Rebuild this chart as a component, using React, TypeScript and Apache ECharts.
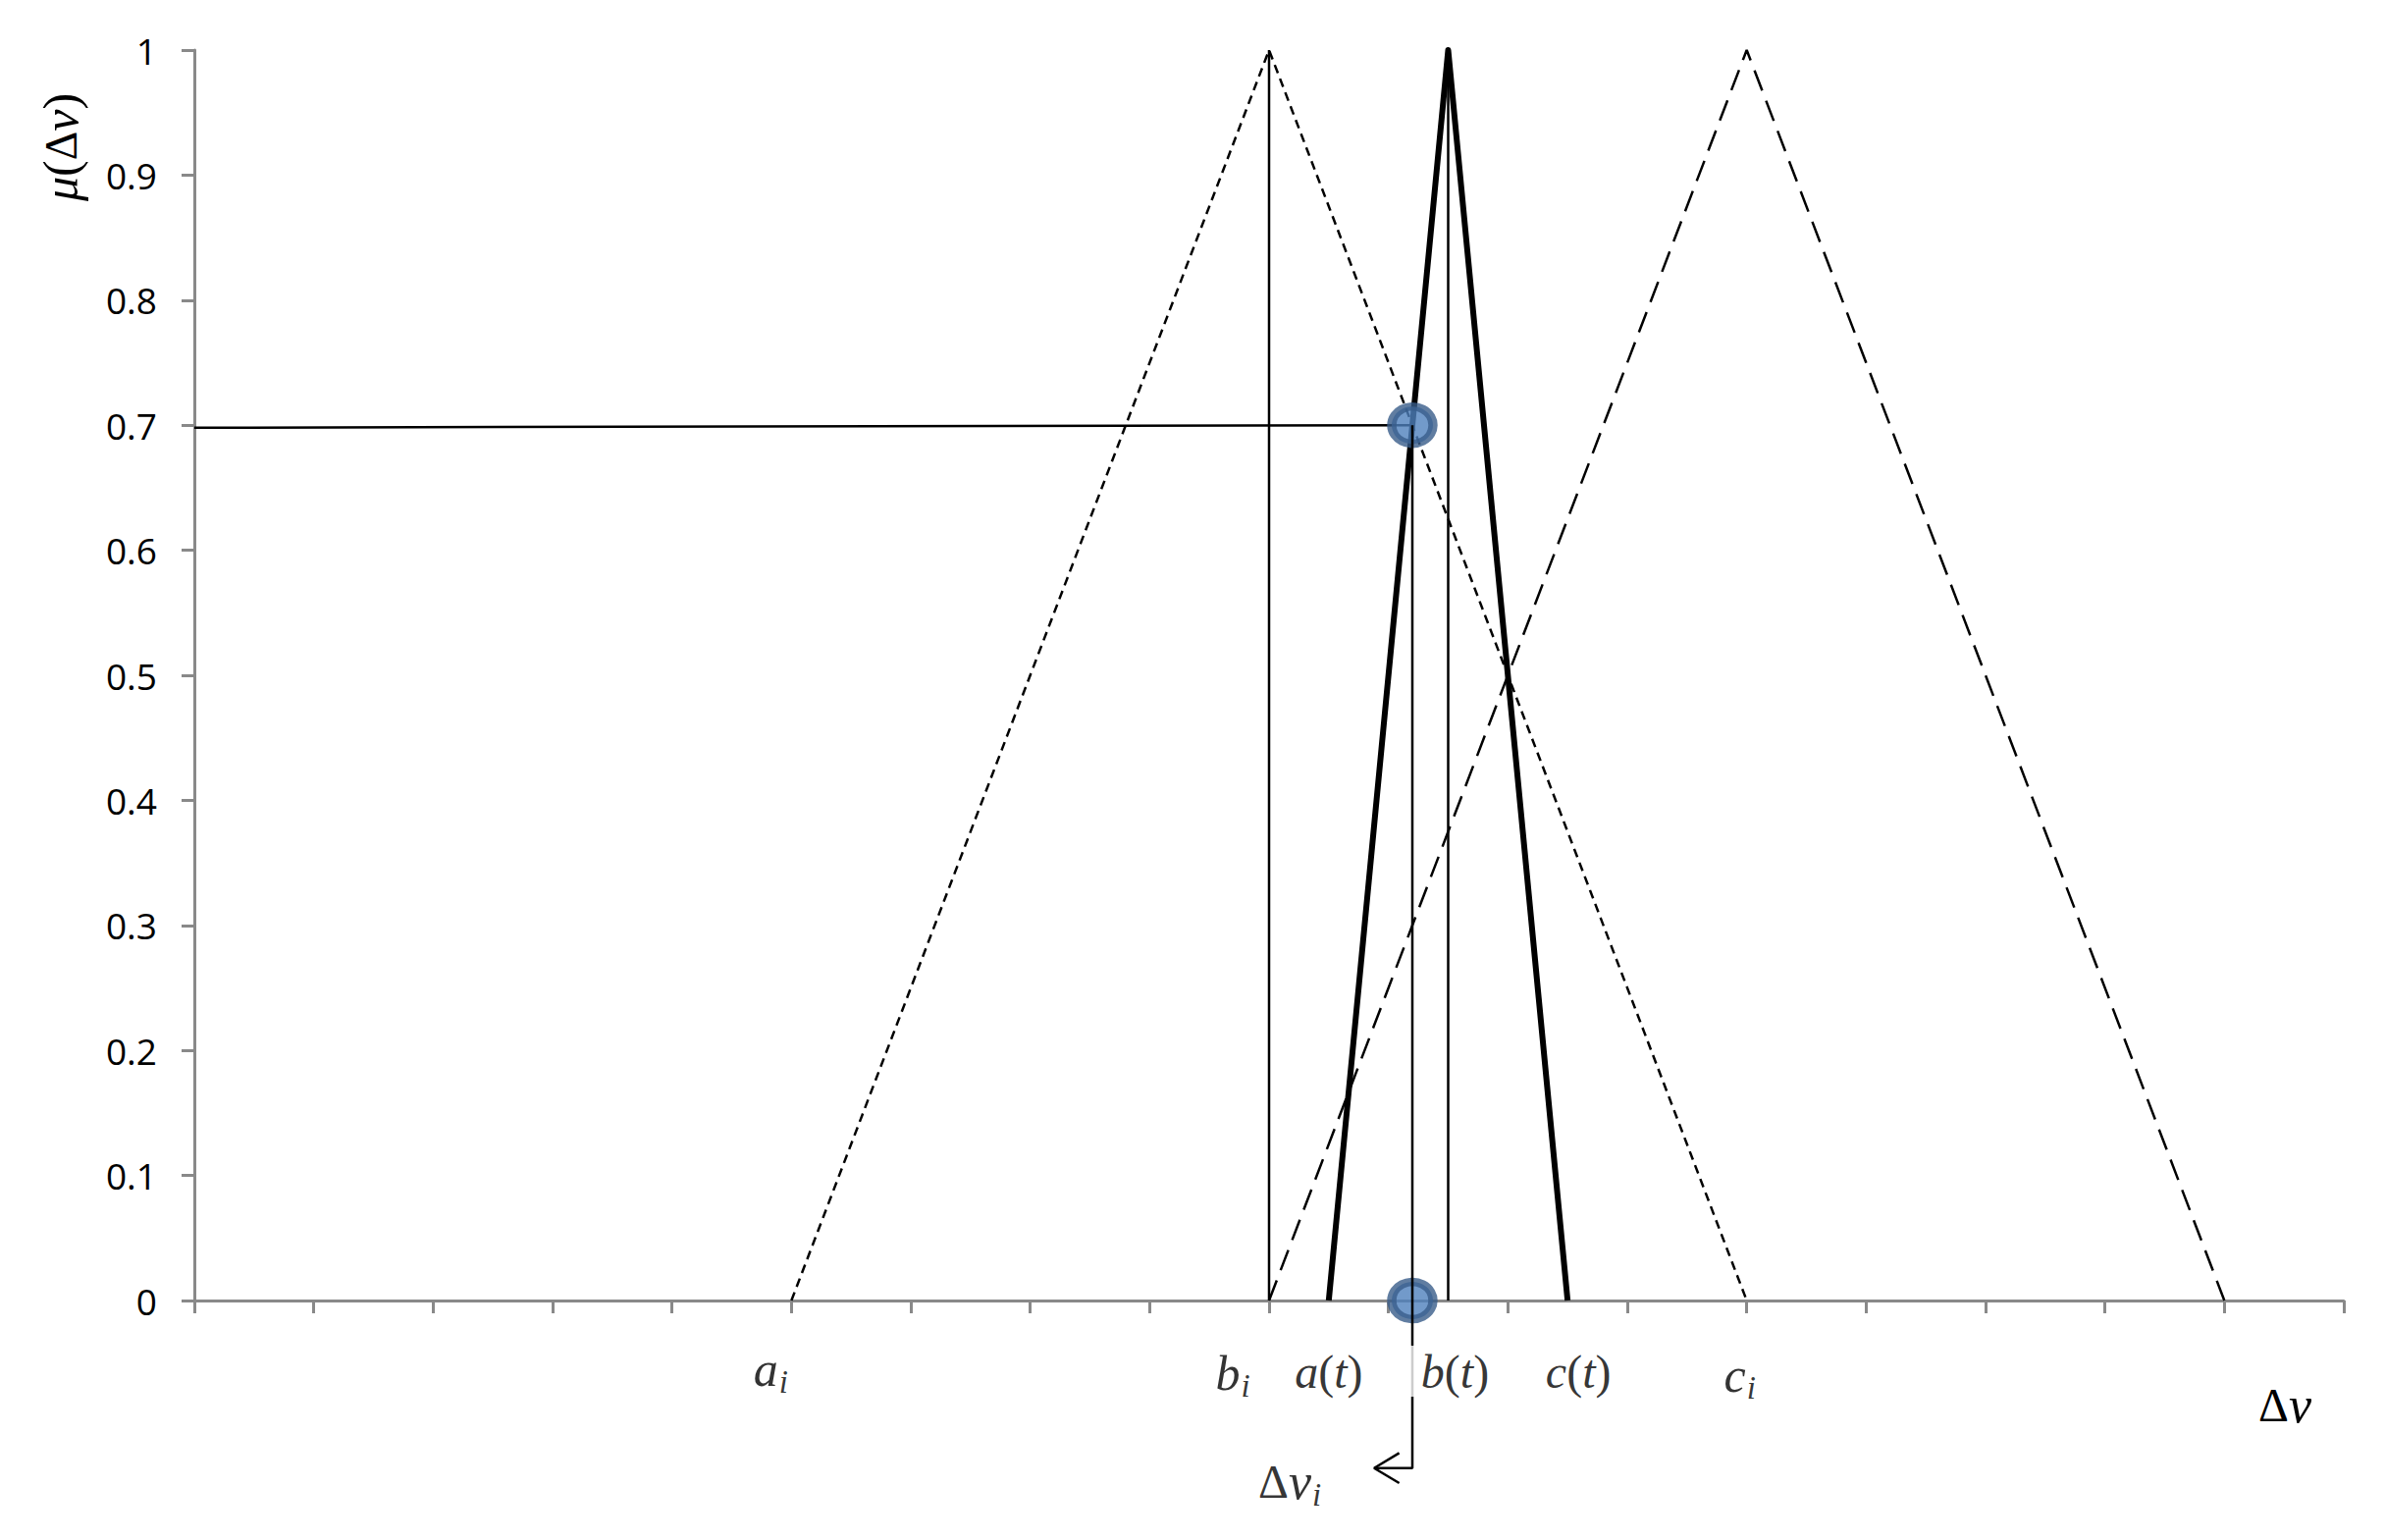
import { useEffect, useRef } from "react";
import * as echarts from "echarts";

// axis ranges
const X_MIN = 0;
const X_MAX = 18;
const X_STEP = 1;
const Y_MIN = 0;
const Y_MAX = 1;
const Y_STEP = 0.1;

// triangular fuzzy numbers [x, mu]
const fuzzyI = [[5, 0], [9, 1], [13, 0]];
const fuzzyNext = [[9, 0], [13, 1], [17, 0]];
const fuzzyT = [[9.5, 0], [10.5, 1], [11.5, 0]];
const peakBi = [[9, 0], [9, 1]];
const peakBt = [[10.5, 0], [10.5, 1]];
const muLevel = [[0, 0.698], [10.2, 0.7]];
const dvDrop = [[10.2, 0.7], [10.2, -0.134], [9.88, -0.134]];
const arrowHead = [[10.09, -0.122], [9.88, -0.134], [10.09, -0.146]];
const intersections = [[10.2, 0.7], [10.2, 0]];

// parameter labels along the x axis
const paramNames = ["a_i", "b_i", "a(t)", "b(t)", "c(t)", "c_i"];
const paramValues = [5, 9, 9.5, 10.5, 11.5, 13];
const dvLabelAnchor = [[9.88, -0.134]];

// label pixel offsets (layout, not data)
const paramOffsets = [[-21, 70], [-37, 74], [0, 72], [2, 72], [11, 72], [-7, 76]];

const SERIF = "'Liberation Serif', 'DejaVu Serif', serif";

const rich = {
  sm: { fontFamily: SERIF, fontStyle: "italic", fontSize: 50, color: "#000" },
  ss: { fontFamily: SERIF, fontStyle: "italic", fontSize: 33, color: "#000", padding: [26, 0, 0, 1] },
  tm: { fontFamily: SERIF, fontStyle: "italic", fontSize: 48, color: "#000" },
  tp: { fontFamily: SERIF, fontSize: 48, color: "#000" },
  d: { fontFamily: SERIF, fontSize: 48, color: "#000" },
  dv: { fontFamily: SERIF, fontStyle: "italic", fontSize: 52, color: "#000" },
};

function fmtParam(name: string): string {
  if (name.includes("_")) {
    const [b, s] = name.split("_");
    return `{sm|${b}}{ss|${s}}`;
  }
  const b = name.charAt(0);
  return `{tm|${b}}{tp|(}{tm|t}{tp|)}`;
}

export default function App() {
  const ref = useRef<HTMLDivElement>(null);
  useEffect(() => {
    if (!ref.current) return;
    const chart = echarts.init(ref.current, undefined, { renderer: "svg" });
    const thin = { color: "#000", width: 2.5 };
    const lineBase = {
      type: "line",
      showSymbol: false,
      symbol: "none",
      clip: false,
      silent: true,
      z: 2,
    };
    chart.setOption({
      animation: false,
      tooltip: { show: false },
      grid: { left: 198, right: 42, top: 51, bottom: 244, containLabel: false },
      xAxis: {
        type: "value",
        min: X_MIN,
        max: X_MAX,
        interval: X_STEP,
        axisLine: { show: true, onZero: false, lineStyle: { color: "#898989", width: 3 } },
        axisTick: { show: true, inside: false, length: 13, lineStyle: { color: "#898989", width: 3 } },
        axisLabel: { show: false },
        splitLine: { show: false },
        name: "{d|Δ}{dv|v}",
        nameLocation: "end",
        nameGap: -60,
        nameTextStyle: {
          rich,
          align: "center",
          verticalAlign: "top",
          lineHeight: 52,
          padding: [80, 0, 0, 0],
        },
      },
      yAxis: {
        type: "value",
        min: Y_MIN,
        max: Y_MAX,
        interval: Y_STEP,
        axisLine: { show: true, onZero: false, lineStyle: { color: "#898989", width: 3 } },
        axisTick: { show: true, inside: false, length: 13, lineStyle: { color: "#898989", width: 3 } },
        axisLabel: {
          margin: 38,
          color: "#000",
          fontFamily: "'Open Sans', sans-serif",
          fontSize: 37,
          formatter: (v: number) => (v === 0 ? "0" : v === 1 ? "1" : v.toFixed(1)),
        },
        splitLine: { show: false },
      },
      graphic: [
        {
          type: "text",
          x: 62,
          y: 150,
          rotation: Math.PI / 2,
          style: {
            text: "{tm|μ}{tp|(}{d2|Δ}{tm|v}{tp|)}",
            rich: {
              tm: { fontFamily: SERIF, fontStyle: "italic", fontSize: 50, fill: "#000" },
              tp: { fontFamily: SERIF, fontSize: 50, fill: "#000" },
              d2: { fontFamily: SERIF, fontSize: 46, fill: "#000" },
            },
            align: "center",
            verticalAlign: "middle",
          },
        },
      ],
      series: [
        { ...lineBase, name: "fuzzyI", data: fuzzyI, lineStyle: { color: "#000", width: 2.5, type: [9, 6], cap: "butt" } },
        { ...lineBase, name: "fuzzyNext", data: fuzzyNext, lineStyle: { color: "#000", width: 2.5, type: [22, 11], cap: "butt" } },
        { ...lineBase, name: "peakBi", data: peakBi, lineStyle: thin },
        { ...lineBase, name: "peakBt", data: peakBt, lineStyle: thin },
        { ...lineBase, name: "fuzzyT", data: fuzzyT, lineStyle: { color: "#000", width: 6, join: "round" } },
        { ...lineBase, name: "muLevel", data: muLevel, lineStyle: thin },
        {
          type: "scatter",
          name: "intersections",
          data: intersections,
          symbol: "circle",
          symbolSize: [42, 38],
          itemStyle: { color: "#4F81BD", borderColor: "#385D8A", borderWidth: 9 },
          silent: true,
          z: 3,
        },
        { ...lineBase, name: "dvDrop", data: dvDrop, lineStyle: thin, z: 4 },
        { ...lineBase, name: "arrowHead", data: arrowHead, lineStyle: thin, z: 4 },
        {
          type: "scatter",
          name: "params",
          symbolSize: 1,
          itemStyle: { color: "rgba(0,0,0,0)" },
          clip: false,
          silent: true,
          z: 5,
          data: paramNames.map((n, i) => ({
            name: n,
            value: [paramValues[i], 0],
            label: {
              show: true,
              position: "inside",
              offset: paramOffsets[i],
              formatter: fmtParam(n),
              rich,
              backgroundColor: n === "b(t)" ? "#fff" : "transparent",
              padding: n === "b(t)" ? [2, 2, 2, 12] : 0,
            },
          })),
        },
        {
          type: "scatter",
          name: "dvLabel",
          symbolSize: 1,
          itemStyle: { color: "rgba(0,0,0,0)" },
          clip: false,
          silent: true,
          z: 5,
          data: dvLabelAnchor,
          label: {
            show: true,
            position: "inside",
            offset: [-86, 14],
            formatter: "{d|Δ}{dv|v}{ss|i}",
            rich,
          },
        },
      ],
    });
    return () => chart.dispose();
  }, []);
  return (
    <div
      ref={ref}
      style={{ position: "absolute", left: 0, top: 0, width: 2430, height: 1569, background: "#fff" }}
    />
  );
}
